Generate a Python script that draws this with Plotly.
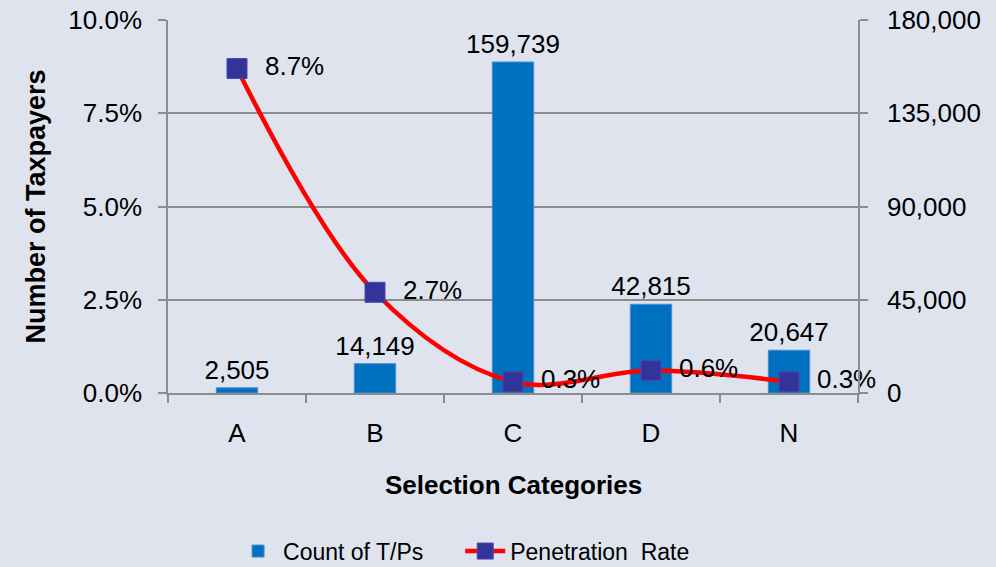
import plotly.graph_objects as go

categories = ["A", "B", "C", "D", "N"]
counts = [2505, 14149, 159739, 42815, 20647]
rates = [0.087, 0.027, 0.003, 0.006, 0.003]
count_ticks = [0, 45000, 90000, 135000, 180000]
rate_ticks = [0, 0.025, 0.05, 0.075, 0.10]

BG = "#dfe3ee"
AX = "#8c8c8c"
FONT = "Liberation Sans, Arial, sans-serif"
FS = 26
NB = "\u00a0"

fig = go.Figure()
fig.add_trace(go.Bar(
    x=categories, y=counts, name="Count of T/Ps" + NB * 5,
    marker=dict(color="#0070c0", line=dict(color="#4a8fd0", width=1)),
    width=0.3,
    text=[f"{v:,}" for v in counts], textposition="outside", constraintext="none",
    textfont=dict(size=FS, color="black"), cliponaxis=False,
    yaxis="y",
))
fig.add_trace(go.Scatter(
    x=categories, y=rates, name="Penetration  Rate",
    mode="lines+markers+text",
    line=dict(color="#ff0000", width=4.5, shape="spline", smoothing=1),
    marker=dict(symbol="square", size=20, color="#333399", line=dict(color="#4848b0", width=1)),
    text=[NB * 2 + f"{v*100:.1f}%" for v in rates], textposition="middle right",
    textfont=dict(size=FS, color="black"), cliponaxis=False,
    yaxis="y2",
))

fig.update_layout(
    width=996, height=567,
    paper_bgcolor=BG, plot_bgcolor=BG,
    font=dict(family=FONT, size=FS, color="black"),
    margin=dict(l=168, r=138, t=20, b=174, autoexpand=False),
    bargap=0.7,
    showlegend=True,
    legend=dict(orientation="h", xref="container", yref="container",
                x=0.234, xanchor="left", y=0.028, yanchor="middle",
                font=dict(size=23), itemwidth=40, traceorder="normal"),
    xaxis=dict(
        automargin=False,
        showline=True, linecolor=AX, linewidth=1.5,
        ticks="outside", tickson="boundaries", ticklen=8, tickcolor=AX, tickwidth=1.5,
        ticklabelstandoff=16, showgrid=False,
    ),
    yaxis=dict(
        automargin=False,
        side="right", range=[0, 180000], tickvals=count_ticks,
        tickformat=",", showline=True, linecolor=AX, linewidth=1.5,
        ticks="outside", ticklen=8, tickcolor=AX, tickwidth=1.5,
        ticklabelstandoff=14,
        showgrid=True, gridcolor=AX, gridwidth=1.5, zeroline=False,
    ),
    yaxis2=dict(
        automargin=False,
        side="left", overlaying="y", range=[0, 0.10], tickvals=rate_ticks,
        tickformat=".1%", showline=True, linecolor=AX, linewidth=1.5,
        ticks="outside", ticklen=8, tickcolor=AX, tickwidth=1.5,
        ticklabelstandoff=11,
        showgrid=False, zeroline=False,
    ),
    annotations=[
        dict(text="<b>Number of Taxpayers</b>", textangle=-90, xref="paper", yref="paper",
             x=0, y=0.5, xshift=-133, xanchor="center", yanchor="middle", showarrow=False,
             font=dict(size=27, color="black")),
        dict(text="<b>Selection Categories</b>", xref="paper", yref="paper",
             x=0.5, y=0, yshift=-92, xanchor="center", yanchor="middle", showarrow=False,
             font=dict(size=26, color="black")),
    ],
)

fig.write_html("out.html", config={"displayModeBar": False},
               post_script="document.body.style.margin='0';")
